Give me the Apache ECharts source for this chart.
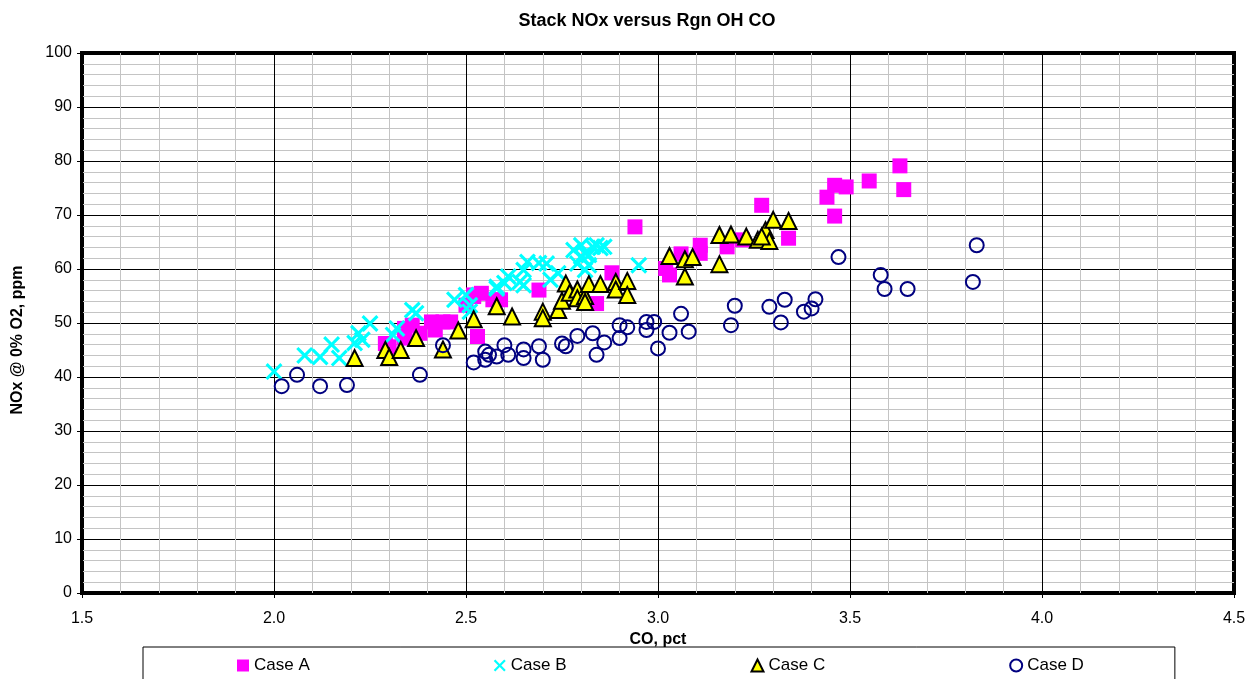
<!DOCTYPE html>
<html>
<head>
<meta charset="utf-8">
<script src="https://cdn.jsdelivr.net/npm/echarts@6/dist/echarts.min.js"></script>
<style>
  html, body { margin: 0; padding: 0; background: #fff; }
  #chart { width: 1251px; height: 679px; }
</style>
</head>
<body>
<div id="chart"></div>
<script>
// CO (pct) vs NOx @ 0% O2 (ppm), one array of [CO, NOx] pairs per case
const caseA = [
  [2.29,46.2],[2.30,45.6],[2.34,47.2],[2.34,49.0],[2.36,49.6],[2.38,48.1],[2.41,50.2],[2.42,48.7],
  [2.44,50.2],[2.46,50.2],[2.50,53.3],[2.52,54.9],[2.52,55.2],[2.53,47.5],[2.54,55.5],[2.57,54.3],
  [2.59,54.3],[2.69,56.1],[2.84,53.6],[2.88,59.3],[2.94,67.8],[3.02,60.1],[3.03,58.9],[3.06,62.8],
  [3.11,64.4],[3.11,62.9],[3.18,64.1],[3.22,65.4],[3.27,71.8],[3.34,65.7],[3.44,73.3],[3.46,75.5],
  [3.49,75.2],[3.46,69.8],[3.55,76.3],[3.63,79.1],[3.64,74.7]
];
const caseB = [
  [2.00,41.0],[2.08,44.0],[2.12,43.7],[2.15,46.0],[2.17,43.5],[2.21,46.3],[2.22,48.1],[2.23,46.9],
  [2.25,49.9],[2.31,47.8],[2.32,49.0],[2.36,52.4],[2.37,51.8],[2.47,54.3],[2.50,55.2],[2.51,52.1],
  [2.51,53.3],[2.58,56.4],[2.58,56.7],[2.60,57.4],[2.61,58.6],[2.64,57.6],[2.65,57.0],[2.65,59.8],
  [2.66,61.3],[2.69,61.1],[2.71,61.0],[2.72,58.0],[2.74,59.2],[2.78,63.5],[2.79,61.0],[2.80,64.4],
  [2.80,62.3],[2.81,59.8],[2.81,62.9],[2.82,60.7],[2.82,62.6],[2.83,64.1],[2.84,64.4],[2.85,63.9],
  [2.86,64.1],[2.95,60.7]
];
const caseC = [
  [2.21,43.5],[2.29,45.0],[2.30,43.7],[2.33,45.0],[2.37,47.2],[2.44,45.1],[2.48,48.6],[2.52,50.7],
  [2.58,53.1],[2.62,51.2],[2.70,52.1],[2.70,50.9],[2.74,52.4],[2.75,54.1],[2.76,57.3],[2.77,55.6],
  [2.79,56.2],[2.79,54.6],[2.81,55.0],[2.81,53.9],[2.82,57.2],[2.85,57.2],[2.89,57.6],[2.89,56.2],
  [2.92,57.8],[2.92,55.2],[3.03,62.4],[3.07,61.8],[3.07,58.6],[3.09,62.2],[3.16,60.9],[3.16,66.3],
  [3.19,66.4],[3.23,66.0],[3.26,65.4],[3.28,67.2],[3.29,65.2],[3.27,66.0],[3.30,69.1],[3.34,68.9]
];
const caseD = [
  [2.02,38.3],[2.06,40.4],[2.12,38.3],[2.19,38.5],[2.38,40.4],[2.44,45.9],[2.52,42.7],[2.55,43.2],
  [2.55,44.7],[2.56,44.1],[2.58,43.8],[2.60,45.9],[2.61,44.1],[2.65,45.1],[2.65,43.5],[2.69,45.7],
  [2.70,43.2],[2.75,46.2],[2.76,45.7],[2.79,47.6],[2.83,48.1],[2.84,44.1],[2.86,46.4],[2.90,47.2],
  [2.90,49.6],[2.92,49.2],[2.97,48.7],[2.97,50.2],[2.99,50.2],[3.00,45.3],[3.03,48.2],[3.06,51.7],
  [3.08,48.4],[3.19,49.6],[3.20,53.2],[3.29,53.0],[3.32,50.1],[3.33,54.3],[3.38,52.1],[3.40,52.7],
  [3.41,54.4],[3.47,62.2],[3.58,58.9],[3.59,56.3],[3.65,56.3],[3.82,57.6],[3.83,64.4]
];
const seriesNames = ['Case A', 'Case B', 'Case C', 'Case D'];
const xTicks = { min: 1.5, max: 4.5, step: 0.5 };
const yTicks = { min: 0, max: 100, step: 10 };

const FONT = 'Liberation Sans, Arial, sans-serif';
const CROSS = 'path://M0,1.3L1.3,0L5,3.7L8.7,0L10,1.3L6.3,5L10,8.7L8.7,10L5,6.3L1.3,10L0,8.7L3.7,5Z';

const chart = echarts.init(document.getElementById('chart'), null, { renderer: 'canvas' });

const axisCommon = {
  axisLine: { show: false },
  axisTick: { show: true, length: 5, lineStyle: { color: '#000', width: 1 } },
  axisLabel: { color: '#000', fontFamily: FONT, fontSize: 16 },
  splitLine: { show: true, lineStyle: { color: '#000', width: 1 } },
  minorTick: { show: false, splitNumber: 5 },
  minorSplitLine: { show: true, lineStyle: { color: '#c4c4c4', width: 1 } },
  nameTextStyle: { color: '#000', fontFamily: FONT, fontSize: 16, fontWeight: 'bold' },
  nameLocation: 'middle'
};

chart.setOption({
  animation: false,
  backgroundColor: '#fff',
  title: {
    text: 'Stack NOx versus Rgn OH CO',
    left: 642, top: 7, textAlign: 'center',
    textStyle: { fontFamily: FONT, fontSize: 18, fontWeight: 'bold', color: '#000' }
  },
  grid: {
    left: 82, right: 17, top: 53, bottom: 86,
    show: true, borderColor: '#000', borderWidth: 4, backgroundColor: '#fff'
  },
  xAxis: Object.assign({}, axisCommon, {
    type: 'value', name: 'CO, pct', nameGap: 28,
    min: xTicks.min, max: xTicks.max, interval: xTicks.step,
    axisLabel: Object.assign({}, axisCommon.axisLabel, {
      margin: 18,
      formatter: v => v.toFixed(1)
    })
  }),
  yAxis: Object.assign({}, axisCommon, {
    type: 'value', name: 'NOx @ 0% O2, ppm', nameGap: 56,
    nameTextStyle: Object.assign({}, axisCommon.nameTextStyle, { padding: [0, 34, 0, 0] }),
    min: yTicks.min, max: yTicks.max, interval: yTicks.step,
    axisLabel: Object.assign({}, axisCommon.axisLabel, { margin: 10 })
  }),
  legend: {
    left: 143, top: 647,
    orient: 'horizontal',
    itemWidth: 12, itemHeight: 12, itemGap: 184,
    padding: [10, 91, 30, 94],
    borderColor: '#000', borderWidth: 1,
    textStyle: { fontFamily: FONT, fontSize: 17, color: '#000' },
    data: seriesNames
  },
  series: [
    {
      name: seriesNames[0], type: 'scatter', data: caseA,
      symbol: 'rect', symbolSize: 15,
      itemStyle: { color: '#ff00ff', opacity: 1 }
    },
    {
      name: seriesNames[1], type: 'scatter', data: caseB,
      symbol: CROSS, symbolSize: 17,
      itemStyle: { color: '#00ffff', opacity: 1 }
    },
    {
      name: seriesNames[2], type: 'scatter', data: caseC,
      symbol: 'triangle', symbolSize: 16,
      itemStyle: { color: '#ffff00', borderColor: '#000', borderWidth: 2, opacity: 1 }
    },
    {
      name: seriesNames[3], type: 'scatter', data: caseD,
      symbol: 'circle', symbolSize: 14,
      itemStyle: { color: 'rgba(255,255,255,0)', borderColor: '#000080', borderWidth: 2, opacity: 1 }
    }
  ]
});
</script>
</body>
</html>
